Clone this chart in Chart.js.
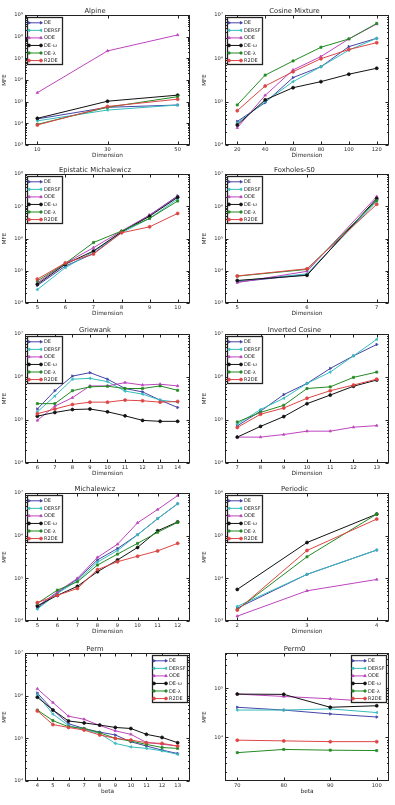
<!DOCTYPE html>
<html>
<head>
<meta charset="utf-8">
<script src="https://cdn.jsdelivr.net/npm/chart.js@4.4.0/dist/chart.umd.min.js"></script>
<style>
  body { margin: 0; background: #fff; width: 395px; height: 805px; position: relative; overflow: hidden; }
  canvas { position: absolute; }
</style>
</head>
<body>
<script>
const seriesNames = ["DE", "DERSF", "ODE", "DE-ω", "DE-λ", "R2DE"];
const seriesColors = ["#4545a8", "#36bcbc", "#bd45bd", "#111111", "#238a23", "#dd4545"];
const seriesMarkers = [["triangle", 90], ["triangle", -90], ["triangle", 0], ["circle", 0], ["rect", 0], ["circle", 0]];

// MFE per series, in the order of seriesNames
const alpineDims = [10, 30, 50];
const alpineMFE = [
  [1.6e4, 5.5e4, 7e4],
  [1.3e4, 4.1e4, 7e4],
  [2.6e5, 2.2e7, 1.2e8],
  [1.7e4, 1.05e5, 2.0e5],
  [9e3, 5.5e4, 1.7e5],
  [8.4e3, 6e4, 1.3e5]
];

const cosineDims = [20, 40, 60, 80, 100, 120];
const cosineMFE = [
  [3.5e4, 9.5e4, 3.6e5, 6.4e5, 1.86e6, 2.9e6],
  [3.2e4, 1e5, 2.9e5, 6.4e5, 1.55e6, 2.9e6],
  [2.5e4, 1.4e5, 5.4e5, 1.1e6, 2.8e6, 6.2e6],
  [2.9e4, 1.1e5, 2.1e5, 2.9e5, 4.3e5, 5.9e5],
  [8.4e4, 4.1e5, 8.7e5, 1.8e6, 2.8e6, 6.4e6],
  [6.2e4, 2.3e5, 4.9e5, 9.8e5, 1.6e6, 2.3e6]
];

const epistaticDims = [5, 6, 7, 8, 9, 10];
const epistaticMFE = [
  [3.5e4, 1.4e5, 3.4e5, 1.6e6, 5.3e6, 2.1e7],
  [2.6e4, 1.25e5, 3.9e5, 1.5e6, 4.2e6, 1.7e7],
  [4.2e4, 1.7e5, 5.2e5, 1.7e6, 5.3e6, 2e7],
  [3.8e4, 1.6e5, 4.1e5, 1.6e6, 4.9e6, 1.9e7],
  [4.8e4, 1.7e5, 7.5e5, 1.7e6, 4.2e6, 1.45e7],
  [5.5e4, 1.75e5, 3.3e5, 1.5e6, 2.3e6, 6e6]
];

const foxholesDims = [5, 6, 7];
const foxholesMFE = [
  [4.5e3, 7.6e3, 1.6e6],
  [4.8e3, 8e3, 1.4e6],
  [4.3e3, 9.6e3, 2e6],
  [5e3, 7.2e3, 1.75e6],
  [6.8e3, 1.1e4, 1.5e6],
  [6.9e3, 1.15e4, 1.15e6]
];

const griewankDims = [6, 7, 8, 9, 10, 11, 12, 13, 14];
const griewankMFE = [
  [1.8e5, 4.8e5, 1.05e6, 1.26e6, 8.9e5, 5.4e5, 4.5e5, 2.9e5, 1.95e5],
  [1.55e5, 3.6e5, 8.9e5, 9.3e5, 7.8e5, 4.7e5, 4e5, 2.9e5, 2.6e5],
  [9.8e4, 2.1e5, 3.3e5, 6.2e5, 6.2e5, 7.4e5, 6.5e5, 6.8e5, 6.2e5],
  [1.23e5, 1.5e5, 1.75e5, 1.8e5, 1.55e5, 1.25e5, 9.8e4, 9.3e4, 9.3e4],
  [2.4e5, 2.4e5, 4.8e5, 5.9e5, 6.1e5, 5.4e5, 5.4e5, 6.2e5, 4.9e5],
  [1.4e5, 1.8e5, 2.3e5, 2.6e5, 2.6e5, 2.9e5, 2.8e5, 2.6e5, 2.7e5]
];

const invCosineDims = [7, 8, 9, 10, 11, 12, 13];
const invCosineMFE = [
  [7.3e4, 1.6e5, 3.9e5, 7.1e5, 1.58e6, 3.1e6, 5.7e6],
  [8e4, 1.75e5, 3.2e5, 7.1e5, 1.3e6, 3.1e6, 7.5e6],
  [4e4, 4e4, 4.6e4, 5.5e4, 5.5e4, 6.8e4, 7.4e4],
  [4e4, 7.1e4, 1.2e5, 2.4e5, 3.8e5, 6.1e5, 8.5e5],
  [9e4, 1.5e5, 2.2e5, 5.4e5, 5.9e5, 9.8e5, 1.3e6],
  [6.7e4, 1.36e5, 1.9e5, 3.2e5, 4.8e5, 6.5e5, 8.9e5]
];

const michalewiczDims = [5, 6, 7, 8, 9, 10, 11, 12];
const michalewiczMFE = [
  [2e4, 4.6e4, 9.6e4, 2.7e5, 5e5, 1.05e6, 2.5e6, 5.6e6],
  [1.9e4, 4.4e4, 8.8e4, 2.4e5, 4.5e5, 1.05e6, 2.5e6, 5.6e6],
  [2.2e4, 4.8e4, 1e5, 3.1e5, 6.3e5, 2e6, 4.1e6, 8.7e6],
  [2.25e4, 4e4, 6.5e4, 1.43e5, 2.7e5, 5.3e5, 1.3e6, 2.1e6],
  [2.6e4, 5.3e4, 8.3e4, 2.05e5, 3.7e5, 6.6e5, 1.2e6, 2.05e6],
  [2.7e4, 4e4, 5.8e4, 1.6e5, 2.45e5, 3.3e5, 4.4e5, 6.6e5]
];

const periodicDims = [2, 3, 4];
const periodicMFE = [
  [2e3, 1.24e4, 4.6e4],
  [2.2e3, 1.24e4, 4.6e4],
  [1.3e3, 5.1e3, 9.4e3],
  [5.5e3, 6.9e4, 3.2e5],
  [1.85e3, 3.2e4, 3.2e5],
  [1.8e3, 4.5e4, 2.45e5]
];

const permBeta = [4, 5, 6, 7, 8, 9, 10, 11, 12, 13];
const permMFE = [
  [1.15e6, 4.6e5, 2.2e5, 1.7e5, 1.4e5, 1.2e5, 8.3e4, 6.6e4, 5.3e4, 4.4e4],
  [1.05e6, 3.7e5, 2e5, 1.6e5, 1.3e5, 7.6e4, 6.3e4, 5.8e4, 5.1e4, 4.2e4],
  [1.45e6, 6.9e5, 3.3e5, 2.8e5, 2e5, 1.5e5, 1.24e5, 8e4, 7.3e4, 6.6e4],
  [9.2e5, 4.6e5, 2.55e5, 2.3e5, 2.05e5, 1.8e5, 1.7e5, 1.24e5, 1.05e5, 7.9e4],
  [4.6e5, 2.6e5, 1.87e5, 1.7e5, 1.35e5, 1e5, 8.6e4, 7.2e4, 6.1e4, 5.8e4],
  [4.4e5, 2.1e5, 1.8e5, 1.56e5, 1.2e5, 1e5, 9.1e4, 7.9e4, 7.6e4, 6.6e4]
];

const perm0Beta = [70, 80, 90, 100];
const perm0MFE = [
  [4.1e4, 3.6e4, 3e4, 2.6e4],
  [3.6e4, 3.6e4, 3.8e4, 3.2e4],
  [7.6e4, 6.8e4, 6.1e4, 5.3e4],
  [7.6e4, 7.5e4, 4.1e4, 4.4e4],
  [4.9e3, 5.7e3, 5.5e3, 5.4e3],
  [8.8e3, 8.5e3, 8.2e3, 8.2e3]
];

const panels = [
  { title: "Alpine", dims: alpineDims, mfe: alpineMFE, yMin: 1e3, yMax: 1e9, xLabel: "Dimension" },
  { title: "Cosine Mixture", dims: cosineDims, mfe: cosineMFE, yMin: 1e4, yMax: 1e7, xLabel: "Dimension" },
  { title: "Epistatic Michalewicz", dims: epistaticDims, mfe: epistaticMFE, yMin: 1e4, yMax: 1e8, xLabel: "Dimension" },
  { title: "Foxholes-S0", dims: foxholesDims, mfe: foxholesMFE, yMin: 1e3, yMax: 1e7, xLabel: "Dimension" },
  { title: "Griewank", dims: griewankDims, mfe: griewankMFE, yMin: 1e4, yMax: 1e7, xLabel: "Dimension" },
  { title: "Inverted Cosine", dims: invCosineDims, mfe: invCosineMFE, yMin: 1e4, yMax: 1e7, xLabel: "Dimension" },
  { title: "Michalewicz", dims: michalewiczDims, mfe: michalewiczMFE, yMin: 1e4, yMax: 1e7, xLabel: "Dimension" },
  { title: "Periodic", dims: periodicDims, mfe: periodicMFE, yMin: 1e3, yMax: 1e6, xLabel: "Dimension" },
  { title: "Perm", dims: permBeta, mfe: permMFE, yMin: 1e4, yMax: 1e7, xLabel: "beta", legendRight: true },
  { title: "Perm0", dims: perm0Beta, mfe: perm0MFE, yMin: 1300, yMax: 5.2e5, xLabel: "beta", legendRight: true }
];

// where the axes boxes sit on the page
const plotTops = [15, 174, 334, 493, 653];
const plotBottoms = [145, 303, 463, 621, 781];
const plotLefts = [25, 225];
const plotRights = [190, 389];

const FONT = "DejaVu Sans";
const TEXT = "#2a2a2a";
const SUP = "⁰¹²³⁴⁵⁶⁷⁸⁹";

function sup(v) {
  const e = Math.round(Math.log10(v));
  return "10" + String(e).split("").map((c) => SUP[+c]).join("");
}

// axes frame, inward ticks and the boxed legend
const framePlugin = {
  id: "frame",
  afterDraw(chart, args, opts) {
    const { ctx, chartArea: a, scales } = chart;
    const L = Math.round(a.left) + 0.5, R = Math.round(a.right) - 0.5;
    const T = Math.round(a.top) + 0.5, B = Math.round(a.bottom) - 0.5;
    ctx.save();
    ctx.strokeStyle = "#222";
    ctx.lineWidth = 1;
    ctx.beginPath();
    scales.x.ticks.forEach((t) => {
      const px = Math.round(scales.x.getPixelForValue(t.value)) + 0.5;
      ctx.moveTo(px, B); ctx.lineTo(px, B - 3);
      ctx.moveTo(px, T); ctx.lineTo(px, T + 3);
    });
    const y = scales.y;
    for (let e = Math.floor(Math.log10(y.min)); e <= Math.ceil(Math.log10(y.max)); e++) {
      for (let k = 1; k <= 9; k++) {
        const v = k * Math.pow(10, e);
        if (v < y.min || v > y.max) continue;
        const py = Math.round(y.getPixelForValue(v)) + 0.5;
        const len = k === 1 ? 3 : 1.5;
        ctx.moveTo(L, py); ctx.lineTo(L + len, py);
        ctx.moveTo(R, py); ctx.lineTo(R - len, py);
      }
    }
    ctx.stroke();
    ctx.strokeRect(L, T, R - L, B - T);

    // legend
    ctx.font = "5px '" + FONT + "'";
    const rowH = 7.55, lineLen = 12;
    const sets = chart.data.datasets;
    const textW = Math.max(...sets.map((d) => ctx.measureText(d.label).width));
    const w = Math.round(1 + lineLen + 3 + textW + 2);
    const h = Math.round(5.3 + rowH * (sets.length - 1) + 4);
    const x0 = opts.right ? Math.round(a.right) - 3 - w + 0.5 : Math.round(a.left) + 2.5;
    const y0 = Math.round(a.top) + 2.5;
    ctx.fillStyle = "#fff";
    ctx.fillRect(x0, y0, w, h);
    ctx.lineWidth = 1.3;
    ctx.strokeStyle = "#222";
    ctx.strokeRect(x0, y0, w, h);
    const mk = (d) => ({ pointStyle: d.pointStyle, rotation: d.pointRotation, radius: 1.4, borderWidth: 0.7 });
    sets.forEach((d, i) => {
      const cy = y0 + 5.3 + i * rowH;
      ctx.strokeStyle = d.borderColor;
      ctx.fillStyle = d.borderColor;
      ctx.lineWidth = 1;
      ctx.beginPath();
      ctx.moveTo(x0 + 1.5, cy);
      ctx.lineTo(x0 + 1.5 + lineLen, cy);
      ctx.stroke();
      Chart.helpers.drawPoint(ctx, mk(d), x0 + 1.5 + lineLen, cy);
      Chart.helpers.drawPoint(ctx, mk(d), x0 + 1.5, cy);
      ctx.fillStyle = TEXT;
      ctx.textBaseline = "middle";
      ctx.textAlign = "left";
      ctx.fillText(d.label, x0 + 1.5 + lineLen + 3, cy + 0.3);
    });
    ctx.restore();
  }
};

panels.forEach((p, idx) => {
  const row = Math.floor(idx / 2), col = idx % 2;
  const cLeft = col * 197, cWidth = col === 0 ? 197 : 198;
  const cTop = row * 160, cHeight = row === 4 ? 165 : 160;

  const canvas = document.createElement("canvas");
  canvas.width = cWidth;
  canvas.height = cHeight;
  canvas.style.left = cLeft + "px";
  canvas.style.top = cTop + "px";
  document.body.appendChild(canvas);

  const yAxisW = 25;
  const padL = plotLefts[col] - cLeft - yAxisW;
  const padR = cLeft + cWidth - plotRights[col];
  const titleH = plotTops[row] - cTop;
  const padB = cTop + cHeight - plotBottoms[row] - 15;

  const span = p.dims[p.dims.length - 1] - p.dims[0];
  const xMin = p.dims[0] - span * 0.088;
  const xMax = p.dims[p.dims.length - 1] + span * 0.088;

  const datasets = seriesNames.map((name, i) => ({
    label: name,
    data: p.dims.map((x, j) => ({ x: x, y: p.mfe[i][j] })),
    borderColor: seriesColors[i],
    backgroundColor: seriesColors[i],
    pointStyle: seriesMarkers[i][0],
    pointRotation: seriesMarkers[i][1],
    pointRadius: 1.5,
    pointBorderWidth: 0.7,
    borderWidth: 1,
    tension: 0,
    fill: false,
    order: seriesNames.length - i
  }));

  new Chart(canvas, {
    type: "line",
    data: { datasets },
    plugins: [framePlugin],
    options: {
      responsive: false,
      animation: false,
      devicePixelRatio: 1,
      layout: { padding: { left: padL, right: padR, top: 0, bottom: padB } },
      plugins: {
        legend: { display: false },
        tooltip: { enabled: false },
        title: {
          display: true,
          text: p.title,
          color: TEXT,
          font: { family: FONT, size: 6.8, weight: "normal", lineHeight: 1 },
          padding: { top: titleH - 6.8, bottom: 0 }
        },
        frame: { right: !!p.legendRight }
      },
      scales: {
        x: {
          type: "linear",
          min: xMin,
          max: xMax,
          grid: { display: false, drawTicks: false },
          border: { display: false },
          ticks: {
            color: TEXT, padding: 2, autoSkip: false, maxRotation: 0,
            font: { family: FONT, size: 5.2 },
            callback: (v) => String(v)
          },
          title: {
            display: true, text: p.xLabel, color: TEXT,
            font: { family: FONT, size: 5.8 },
            padding: { top: 0, bottom: 1 }
          },
          afterBuildTicks: (s) => { s.ticks = p.dims.map((v) => ({ value: v })); },
          afterFit: (s) => { s.height = 15; }
        },
        y: {
          type: "logarithmic",
          min: p.yMin,
          max: p.yMax,
          grid: { display: false, drawTicks: false },
          border: { display: false },
          ticks: {
            color: TEXT, padding: 2, autoSkip: false,
            font: { family: FONT, size: 5.2 },
            callback: (v) => sup(v)
          },
          title: {
            display: true, text: "MFE", color: TEXT,
            font: { family: FONT, size: 5.5 },
            padding: { top: 1.5, bottom: 0 }
          },
          afterBuildTicks: (s) => {
            const ticks = [];
            for (let e = Math.ceil(Math.log10(p.yMin) - 1e-9); e <= Math.floor(Math.log10(p.yMax) + 1e-9); e++) {
              ticks.push({ value: Math.pow(10, e) });
            }
            s.ticks = ticks;
          },
          afterFit: (s) => { s.width = yAxisW; }
        }
      }
    }
  });
});
</script>
</body>
</html>
